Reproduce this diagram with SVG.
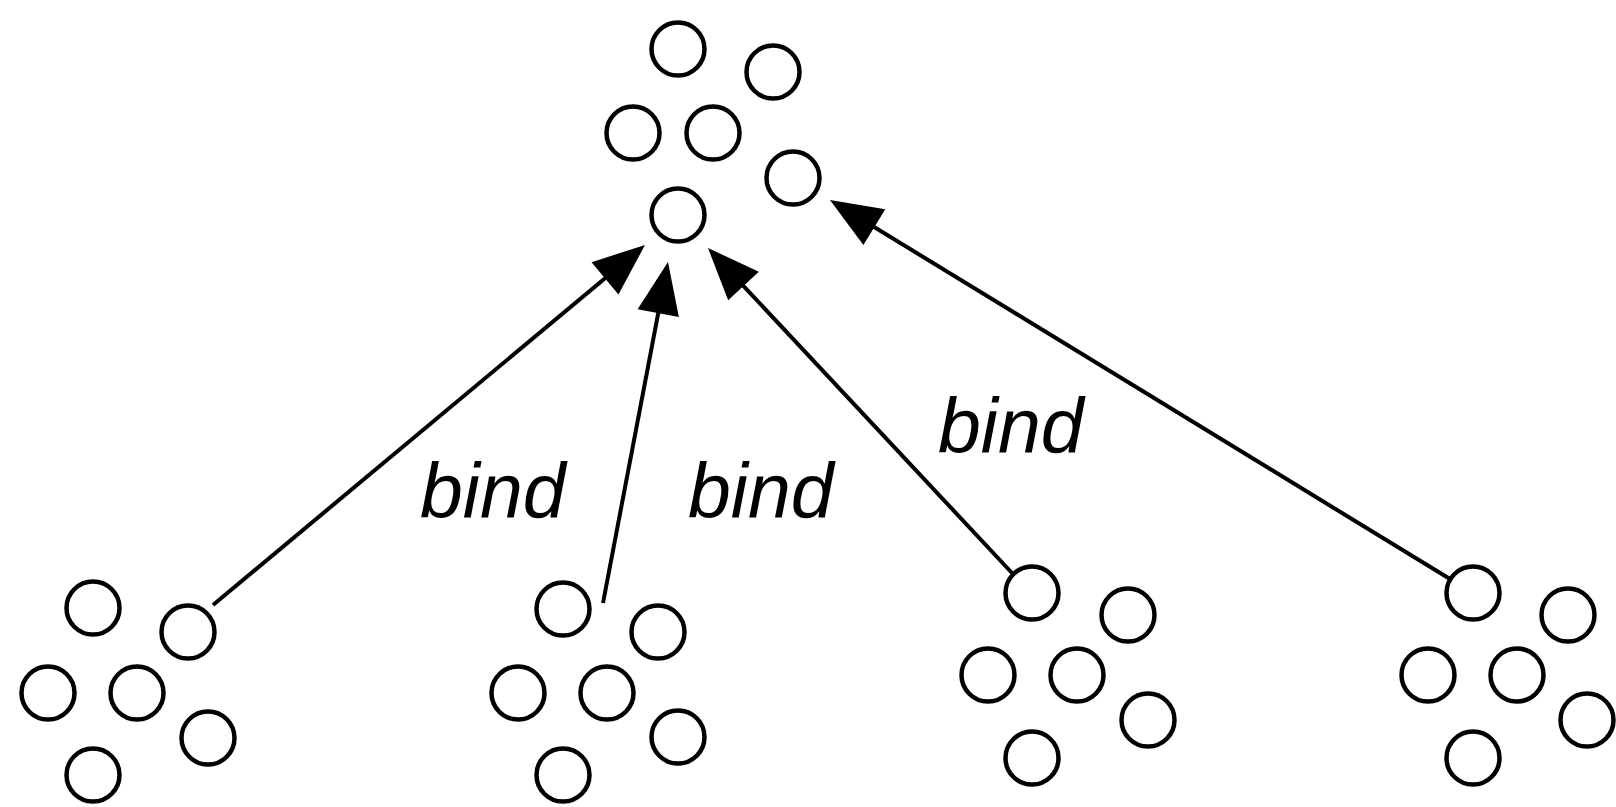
<svg xmlns="http://www.w3.org/2000/svg" width="1616" height="807" viewBox="0 0 1616 807">
  <style>
    .obj { fill: #fff; stroke: #000; stroke-width: 4.5; }
    .edge { fill: none; stroke: #000; stroke-width: 4; marker-end: url(#head); }
    .lbl { font-family: "Liberation Sans", Arial, sans-serif; font-style: italic; font-size: 77px; fill: #000; }
  </style>
  <defs>
    <marker id="head" markerUnits="userSpaceOnUse" markerWidth="52" markerHeight="42" refX="42" refY="21" orient="auto" overflow="visible">
      <path d="M0,0 L52,21 L0,42 z" fill="#000"/>
    </marker>
  </defs>
  <rect width="1616" height="807" fill="#fff"/>

  <!-- target group of objects -->
  <g id="top-group">
    <circle class="obj" cx="678" cy="49" r="26.5"/>
    <circle class="obj" cx="773" cy="72" r="26.5"/>
    <circle class="obj" cx="633" cy="133" r="26.5"/>
    <circle class="obj" cx="713" cy="133" r="26.5"/>
    <circle class="obj" cx="793" cy="178" r="26.5"/>
    <circle class="obj" cx="678" cy="215" r="26.5"/>
  </g>

  <!-- source groups -->
  <g id="group-1">
    <circle class="obj" cx="93" cy="608" r="26.5"/>
    <circle class="obj" cx="188" cy="632" r="26.5"/>
    <circle class="obj" cx="48" cy="693" r="26.5"/>
    <circle class="obj" cx="137" cy="693" r="26.5"/>
    <circle class="obj" cx="208" cy="738" r="26.5"/>
    <circle class="obj" cx="93" cy="775" r="26.5"/>
  </g>
  <g id="group-2">
    <circle class="obj" cx="563" cy="609" r="26.5"/>
    <circle class="obj" cx="658" cy="632" r="26.5"/>
    <circle class="obj" cx="518" cy="693" r="26.5"/>
    <circle class="obj" cx="607" cy="693" r="26.5"/>
    <circle class="obj" cx="678" cy="737" r="26.5"/>
    <circle class="obj" cx="563" cy="775" r="26.5"/>
  </g>
  <g id="group-3">
    <circle class="obj" cx="1032" cy="593" r="26.5"/>
    <circle class="obj" cx="1128" cy="615" r="26.5"/>
    <circle class="obj" cx="988" cy="675" r="26.5"/>
    <circle class="obj" cx="1077" cy="675" r="26.5"/>
    <circle class="obj" cx="1148" cy="720" r="26.5"/>
    <circle class="obj" cx="1032" cy="758" r="26.5"/>
  </g>
  <g id="group-4">
    <circle class="obj" cx="1473" cy="593" r="26.5"/>
    <circle class="obj" cx="1568" cy="615" r="26.5"/>
    <circle class="obj" cx="1428" cy="675" r="26.5"/>
    <circle class="obj" cx="1517" cy="675" r="26.5"/>
    <circle class="obj" cx="1587" cy="720" r="26.5"/>
    <circle class="obj" cx="1473" cy="758" r="26.5"/>
  </g>

  <!-- bind connectors -->
  <g id="connectors">
    <path class="edge" d="M213,605 L637.3,251.4"/>
    <path class="edge" d="M603,603 L666.1,271.8"/>
    <path class="edge" d="M1012,573 L714.8,255.3"/>
    <path class="edge" d="M1450,579 L838.5,205.2"/>
  </g>

  <g id="labels">
    <text class="lbl" x="420" y="518">bind</text>
    <text class="lbl" x="688" y="518">bind</text>
    <text class="lbl" x="938" y="453">bind</text>
  </g>
</svg>
